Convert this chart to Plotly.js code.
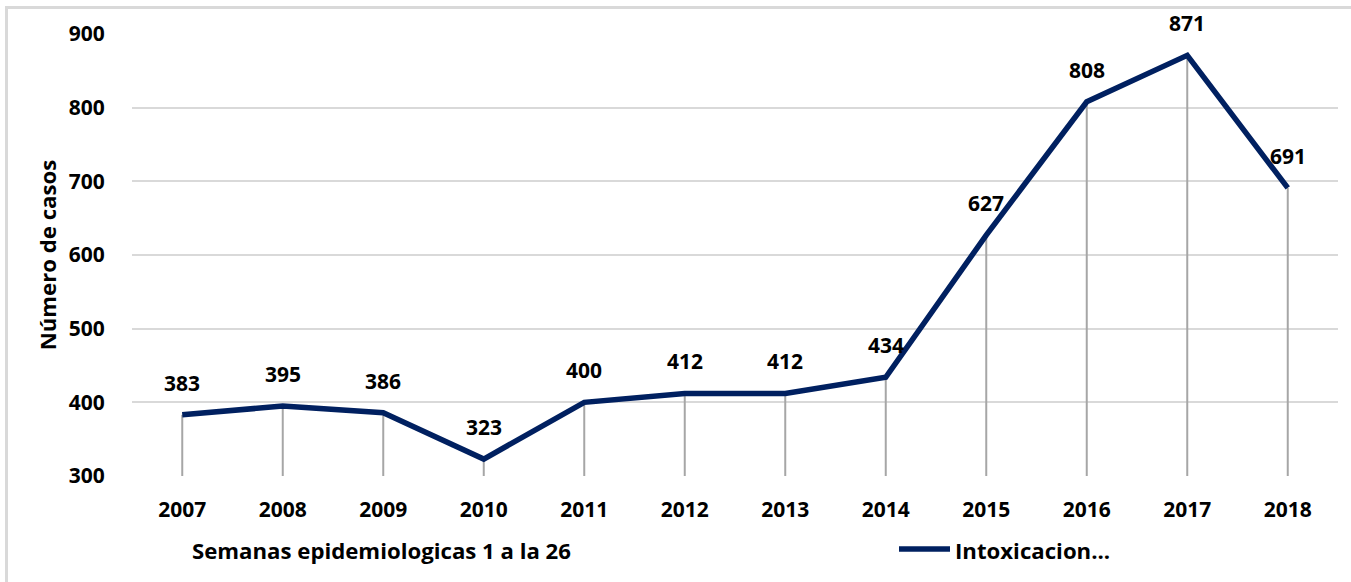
<!DOCTYPE html>
<html>
<head>
<meta charset="utf-8">
<script src="https://cdn.plot.ly/plotly-3.0.1.min.js"></script>
<style>
  html, body { margin: 0; padding: 0; background: #fff; }
  #wrap { position: relative; width: 1351px; height: 582px; overflow: hidden; }
  #frame { position: absolute; left: 5px; top: 6px; width: 1400px; height: 700px;
           border-left: 3px solid #d9d9d9; border-top: 3px solid #d9d9d9; pointer-events: none; }
  #chart { position: absolute; left: 0; top: 0; width: 1351px; height: 582px; }
</style>
</head>
<body>
<div id="wrap">
  <div id="chart"></div>
  <div id="frame"></div>
</div>
<script>
const years = [2007, 2008, 2009, 2010, 2011, 2012, 2013, 2014, 2015, 2016, 2017, 2018];
const cases = [383, 395, 386, 323, 400, 412, 412, 434, 627, 808, 871, 691];
const seriesName = "Intoxicacion...";
const yTicks = [300, 400, 500, 600, 700, 800, 900];
const xTitle = "Semanas epidemiologicas 1 a la 26";
const yTitle = "Número de casos";

const yMin = yTicks[0], yMax = yTicks[yTicks.length - 1];
const FONT = "'Open Sans', Lato, sans-serif";
const NAVY = "#002060";
const tf = { family: FONT, size: 21, color: "#000", weight: 700 };
const ttf = { family: FONT, size: 22.2, color: "#000", weight: 700 };

// drop lines from each point to the axis floor
const dropX = [], dropY = [];
years.forEach((yr, i) => { dropX.push(yr, yr, null); dropY.push(yMin, cases[i], null); });

const traces = [
  { x: dropX, y: dropY, type: "scatter", mode: "lines",
    line: { color: "#a6a6a6", width: 2 }, showlegend: false, hoverinfo: "skip" },
  { x: years, y: cases, type: "scatter", mode: "lines", name: seriesName,
    line: { color: NAVY, width: 5.5 }, showlegend: false }
];

const W = 1351, H = 582, ML = 132, MR = 13, MT = 34, MB = 106;
const pw = W - ML - MR, ph = H - MT - MB;
const px = v => (v - ML) / pw;
const py = v => (H - MB - v) / ph;

const annotations = years.map((yr, i) => ({
  x: yr, y: cases[i], xref: "x", yref: "y", text: String(cases[i]),
  showarrow: false, yshift: 32, font: tf
}));
annotations.push({
  x: px(190), y: py(550), xref: "paper", yref: "paper",
  text: xTitle, showarrow: false, xanchor: "left", yanchor: "middle", font: ttf
});
annotations.push({
  x: px(953), y: py(550), xref: "paper", yref: "paper",
  text: seriesName, showarrow: false, xanchor: "left", yanchor: "middle", font: ttf
});

const layout = {
  width: W, height: H,
  margin: { l: ML, r: MR, t: MT, b: MB, pad: 0 },
  paper_bgcolor: "#fff", plot_bgcolor: "#fff",
  font: tf,
  xaxis: { range: [years[0] - 0.5, years[years.length - 1] + 0.5], tickvals: years, ticktext: years.map(String),
           showgrid: false, zeroline: false, showline: false,
           ticks: "outside", ticklen: 15, tickcolor: "rgba(0,0,0,0)", tickfont: tf },
  yaxis: { range: [yMin, yMax], tickvals: yTicks, showgrid: true, gridcolor: "#d9d9d9",
           gridwidth: 2, zeroline: false, showline: false,
           ticks: "outside", ticklen: 22, tickcolor: "rgba(0,0,0,0)", tickfont: tf,
           title: { text: yTitle, standoff: 5, font: ttf } },
  showlegend: false,
  shapes: [
    { type: "line", xref: "paper", yref: "paper", x0: px(899), x1: px(950), y0: py(549), y1: py(549),
      line: { color: NAVY, width: 5.5 } }
  ],
  annotations: annotations
};

Plotly.newPlot("chart", traces, layout, { displayModeBar: false, staticPlot: true });
</script>
</body>
</html>
